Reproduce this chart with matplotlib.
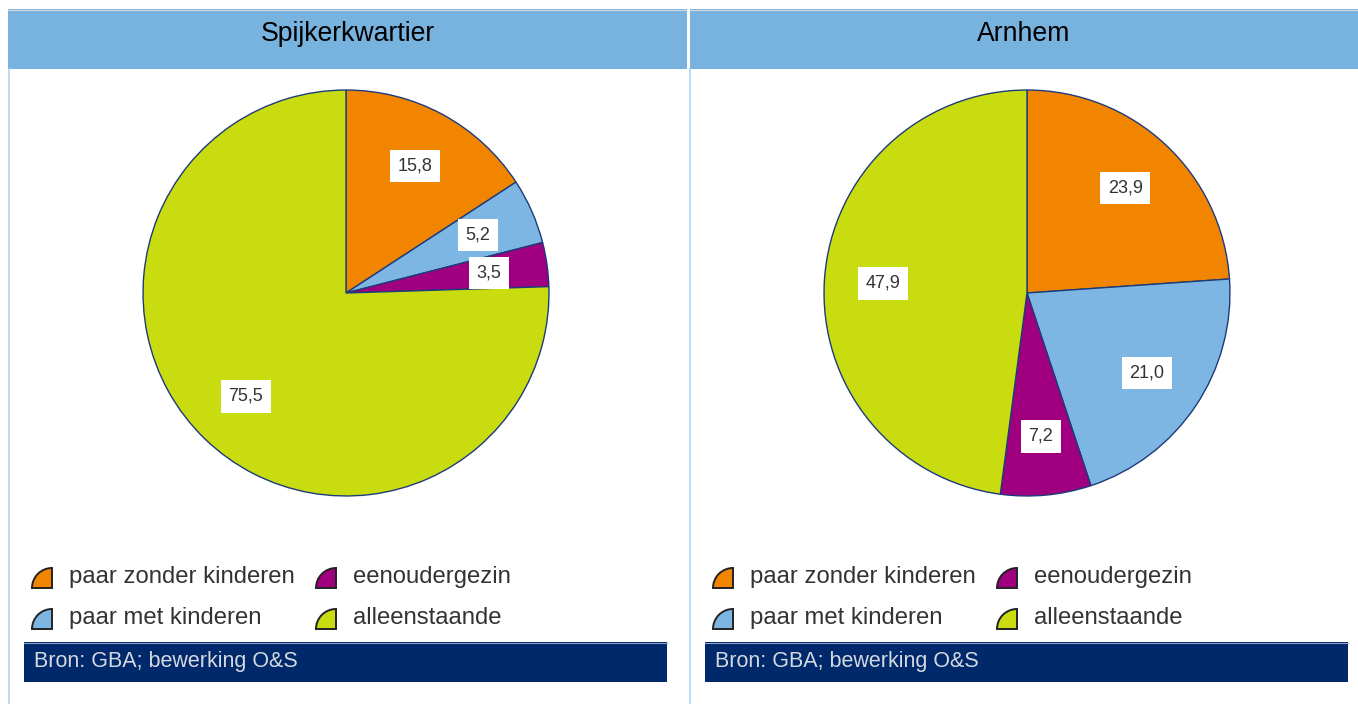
import matplotlib.pyplot as plt
from matplotlib.patches import Rectangle, Wedge

plt.rcParams['font.family'] = ['Liberation Sans', 'DejaVu Sans']

# data
areas = ['Spijkerkwartier', 'Arnhem']
categories = ['paar zonder kinderen', 'paar met kinderen', 'eenoudergezin', 'alleenstaande']
spijker = [15.8, 5.2, 3.5, 75.5]
arnhem = [23.9, 21.0, 7.2, 47.9]
source = 'Bron: GBA; bewerking O&S'

colors = ['#f28500', '#7db6e3', '#a0007f', '#c8dc10']
edge = '#1d3b7a'
header_blue = '#78b3e0'
navy = '#00296b'

W, H = 1358, 704
fig = plt.figure(figsize=(W / 100, H / 100), dpi=100)

# overlay axes in pixel coordinates for the frame, legend and source bar
bg = fig.add_axes([0, 0, 1, 1])
bg.set_xlim(0, W)
bg.set_ylim(H, 0)
bg.axis('off')

panel_dx = 681
panel_w = [679, 668]


def px_box(x0, y0, w, h):
    return [x0 / W, 1 - (y0 + h) / H, w / W, h / H]


for i, (name, vals) in enumerate(zip(areas, [spijker, arnhem])):
    dx = i * panel_dx
    x_left = 8 + dx + (1 if i else 0)
    # header band
    bg.add_patch(Rectangle((x_left, 9), panel_w[i], 60, facecolor=header_blue,
                           edgecolor='none', zorder=1))
    bg.plot([x_left, x_left + panel_w[i]], [9.5, 9.5], color='#d8d8d8', lw=0.8, zorder=2)
    bg.text(x_left + panel_w[i] / 2, 34, name, ha='center', va='center',
            fontsize=19.2, color='black', zorder=3)
    # left border line
    bg.plot([8.5 + dx, 8.5 + dx], [69, H], color='#a9d5f7', lw=1.2, zorder=1)

    # pie
    cx, cy, r = 346 + dx, 293, 205
    ax = fig.add_axes(px_box(cx - r, cy - r, 2 * r, 2 * r))
    wedges, _, autotexts = ax.pie(
        vals, colors=colors, startangle=90, counterclock=False, radius=1,
        autopct=lambda p: f'{p:.1f}'.replace('.', ','), pctdistance=0.71,
        wedgeprops=dict(edgecolor=edge, linewidth=1.0),
        textprops=dict(fontsize=13, color='#333333'))
    for t in autotexts:
        t.set_bbox(dict(facecolor='white', edgecolor='none', pad=5.5))
    ax.set_xlim(-1.01, 1.01)
    ax.set_ylim(-1.01, 1.01)

    # legend
    for k, cat in enumerate(categories):
        col, row = k // 2, k % 2
        ix = 32 + dx + col * 284
        iy = 588 + row * 41
        bg.add_patch(Wedge((ix + 20, iy), 20, 180, 270, facecolor=colors[k],
                           edgecolor='#222222', lw=1.4, zorder=3))
        bg.text(ix + 37, iy - 11, cat, ha='left', va='center', fontsize=17.2,
                color='#333333', zorder=3)

    # source bar
    bg.add_patch(Rectangle((24 + dx, 642), 643, 40, facecolor=navy,
                           edgecolor='none', zorder=1))
    bg.plot([24 + dx, 667 + dx], [642.5, 642.5], color='#8fa3c8', lw=0.8, zorder=2)
    bg.text(34 + dx, 662, source, ha='left', va='center', fontsize=15.5,
            color='#d4d8e0', zorder=3)

fig.savefig('out.png', dpi=100)
